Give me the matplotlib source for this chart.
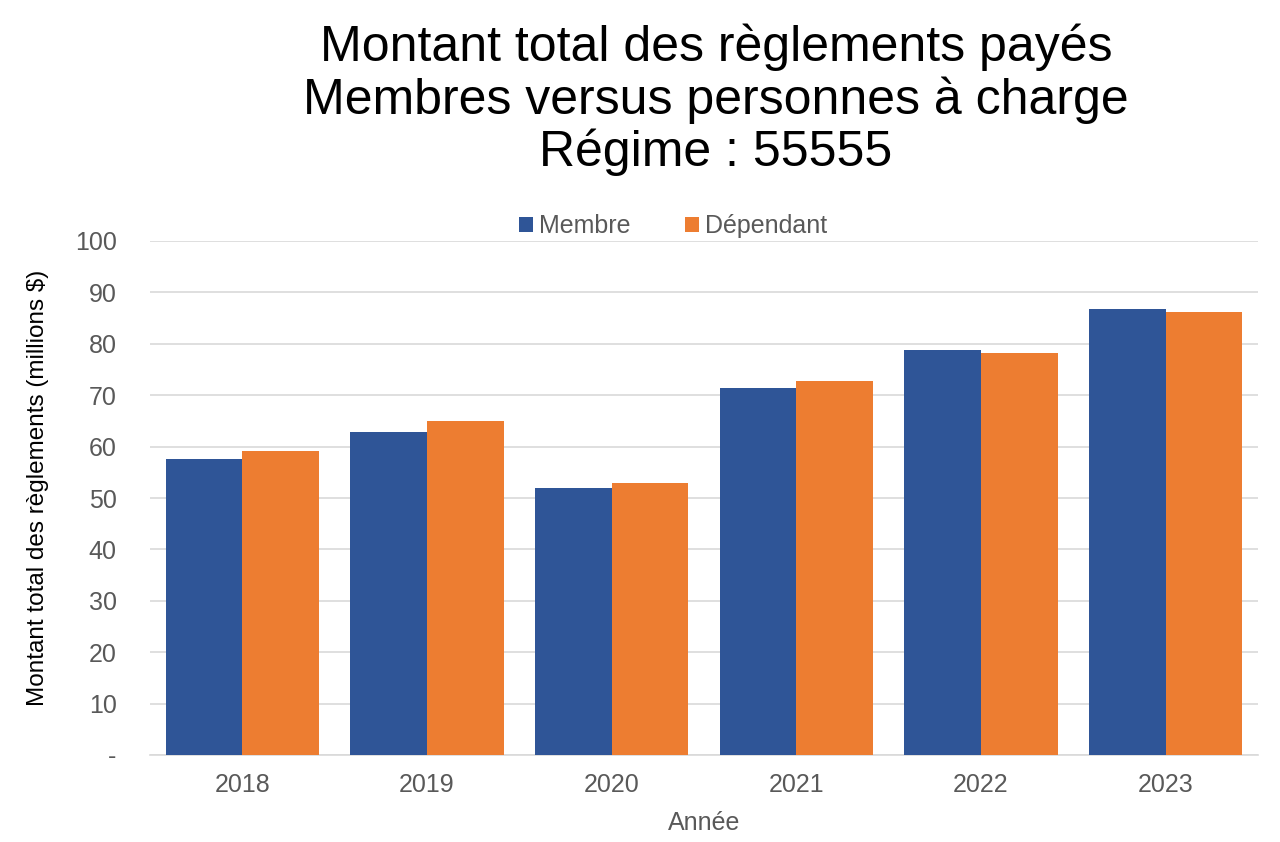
import numpy as np
import matplotlib
matplotlib.use("Agg")
import matplotlib.pyplot as plt

# Daten (in Millionen $)
annees = ["2018", "2019", "2020", "2021", "2022", "2023"]
membre = [57.6, 62.8, 51.9, 71.4, 78.8, 86.8]
dependant = [59.1, 65.0, 52.9, 72.8, 78.2, 86.2]
yticks = [0, 10, 20, 30, 40, 50, 60, 70, 80, 90, 100]
ytick_labels = ["-"] + [str(v) for v in yticks[1:]]

plt.rcParams["font.family"] = ["Liberation Sans", "DejaVu Sans"]
GRIS = "#595959"
BLEU = "#2f5597"
ORANGE = "#ed7d31"

fig = plt.figure(figsize=(12.8, 8.42), dpi=100)
ax = fig.add_axes([150 / 1280, 1 - 755 / 842, 1108 / 1280, 514 / 842])

x = np.arange(len(annees))
w = 0.415
ax.bar(x - w / 2, membre, w, color=BLEU, label="Membre", zorder=3)
ax.bar(x + w / 2, dependant, w, color=ORANGE, label="Dépendant", zorder=3)

ax.set_xlim(-0.5, len(annees) - 0.5)
ax.set_ylim(0, 100)
ax.set_yticks(yticks)
ax.set_yticklabels(ytick_labels)
ax.set_xticks(x)
ax.set_xticklabels(annees)
ax.tick_params(length=0, labelsize=18, colors=GRIS)
ax.tick_params(axis="y", pad=24)
ax.tick_params(axis="x", pad=13)
ax.grid(axis="y", color="#d9d9d9", linewidth=1.2, zorder=0)
for s in ["top", "right", "left"]:
    ax.spines[s].set_visible(False)
ax.spines["bottom"].set_color("#d9d9d9")
ax.spines["bottom"].set_linewidth(1.2)

ax.set_ylabel("Montant total des règlements (millions $)", fontsize=17.5,
              color="black")
ax.yaxis.set_label_coords(-0.091, 0.52)
ax.set_xlabel("Année", fontsize=18, color=GRIS, labelpad=10)

fig.text(716 / 1280, 1 - 100 / 842,
         "Montant total des règlements payés\nMembres versus personnes à charge\nRégime : 55555",
         ha="center", va="center", fontsize=36, linespacing=1.13)

leg = fig.legend(loc="center", bbox_to_anchor=(0.526, 1 - 226 / 842), ncol=2,
                 frameon=False, fontsize=18, handlelength=0.55, handleheight=0.55,
                 handletextpad=0.25, columnspacing=2.2)
for t in leg.get_texts():
    t.set_color(GRIS)

fig.savefig("out.png", dpi=100)
